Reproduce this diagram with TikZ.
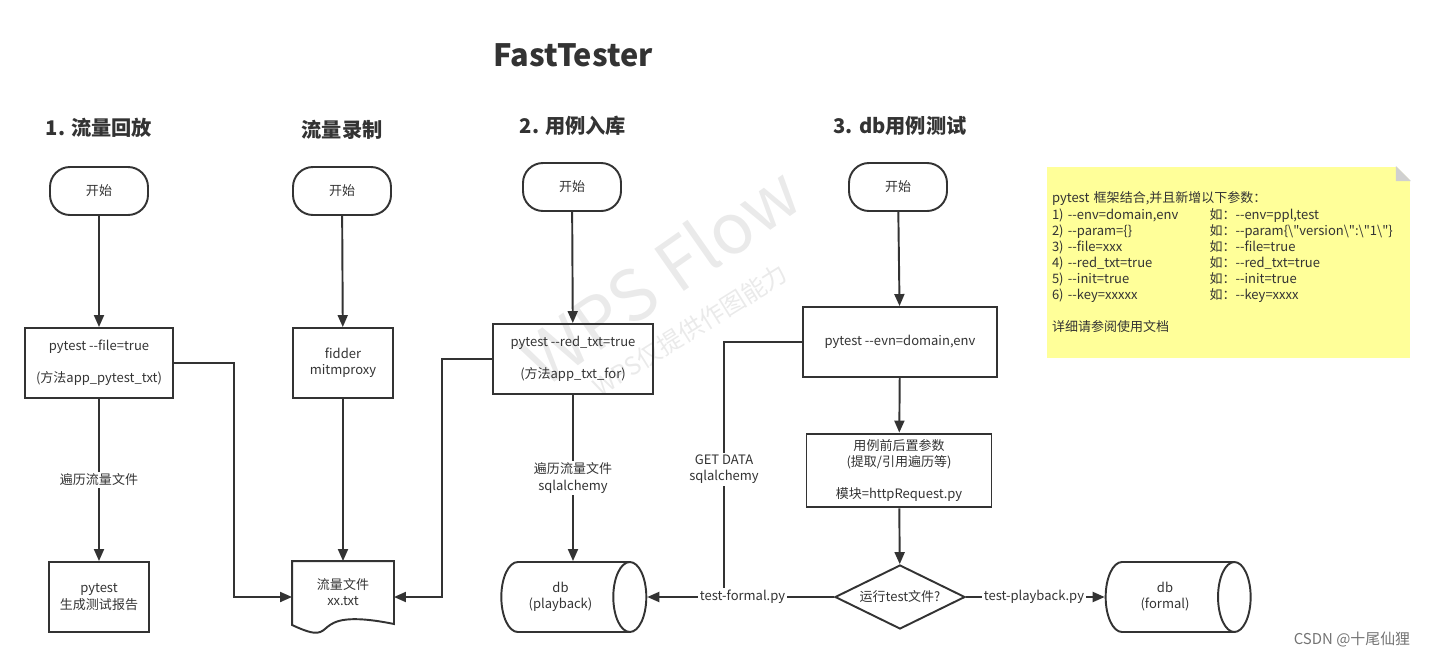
\documentclass[tikz,border=0pt]{standalone}
\usepackage{fontspec}
\setmainfont{Noto Sans CJK SC}[Ligatures=TeXOff]
\usetikzlibrary{arrows.meta,positioning,shapes.geometric}
\definecolor{ink}{RGB}{51,51,51}
\definecolor{notefill}{RGB}{255,255,153}
\definecolor{foldgray}{RGB}{208,208,208}
\definecolor{wmgray}{RGB}{234,234,234}

\begin{document}
\begin{tikzpicture}[>={Triangle[length=2.4mm,width=2mm]},
 font=\fontsize{7.4}{9.2}\selectfont, color=ink, line width=1.1pt,
 hdr/.style={font=\fontsize{11.5}{13}\selectfont\bfseries},
 term/.style={draw,rounded corners=0.4cm,minimum width=1.96cm,minimum height=0.96cm},
 proc/.style={draw,align=center,minimum height=1.4cm},
 doc/.style={align=center,minimum width=2cm,minimum height=1.2cm},
 db/.style={draw,cylinder,aspect=0.8,align=center,minimum width=1.4cm,minimum height=2.9cm},
 dec/.style={draw,diamond,aspect=2,inner sep=0pt,minimum width=2.6cm,minimum height=1.28cm},
 lbl/.style={fill=white,inner sep=1pt,align=center}]
\useasboundingbox (0,0) rectangle (28.72,-13.16);
% watermark
\node[wmgray,rotate=35,font=\fontsize{40}{40}\selectfont] (wm) at (13.2,-5.5) {WPS Flow};
\node[wmgray,rotate=32,font=\fontsize{14}{14}\selectfont] (wmsub) at (13.8,-6.6) {WPS仅提供作图能力};
% titles
\node[font=\fontsize{17.5}{20}\selectfont\bfseries] (title) at (11.46,-1.1) {FastTester};
\node[hdr] (h1) at (1.98,-2.56) {1. 流量回放};
\node[hdr] (h2) at (6.84,-2.6) {流量录制};
\node[hdr] (h3) at (11.46,-2.52) {2. 用例入库};
\node[hdr] (h4) at (18.0,-2.52) {3. db用例测试};
% column 1
\node[term] (s1) at (1.98,-3.82) {开始};
\node[proc,minimum width=2.96cm] (replay) at (1.98,-7.26) {pytest -{}-file=true\\[9pt](方法app\_pytest\_txt)};
\node[proc,minimum width=2cm] (report) at (1.98,-11.94) {pytest\\生成测试报告};
% column 2
\node[term] (s2) at (6.84,-3.82) {开始};
\node[proc,minimum width=2cm] (record) at (6.86,-7.26) {fidder\\mitmproxy};
\node[doc] (txt) at (6.86,-11.84) {流量文件\\xx.txt};
\draw (txt.south west) -- (txt.north west) -- (txt.north east) -- ([yshift=-0.02cm]txt.south east)
 .. controls (6.0,-12.1) and (6.9,-13.0) .. ([yshift=-0.04cm]txt.south west) -- cycle;
% column 3
\node[term] (s3) at (11.44,-3.74) {开始};
\node[proc,minimum width=3.2cm] (import) at (11.46,-7.18) {pytest -{}-red\_txt=true\\[9pt](方法app\_txt\_for)};
\node[db] (dbp) at (11.21,-11.94) {db\\(playback)};
% column 4
\node[term] (s4) at (17.96,-3.74) {开始};
\node[proc,minimum width=3.88cm] (run) at (18.0,-6.84) {pytest -{}-evn=domain,env};
\node[proc,minimum width=3.7cm,minimum height=1.46cm] (param) at (17.98,-9.41) {用例前后置参数\\(提取/引用遍历等)\\[9pt]模块=httpRequest.py};
\node[dec] (ask) at (18.0,-11.94) {运行test文件?};
\node[db] (dbf) at (23.3,-11.94) {db\\(formal)};
% note
\node[fill=notefill,minimum width=7.26cm,minimum height=3.82cm,text width=7.06cm,inner xsep=0.1cm,align=left] (note) at (24.57,-5.25)
 {pytest 框架结合,并且新增以下参数：\\
 \makebox[3.15cm][l]{1) -{}-env=domain,env}如：-{}-env=ppl,test\\
 \makebox[3.15cm][l]{2) -{}-param=\{\}}如：-{}-param\{\textbackslash"version\textbackslash":\textbackslash"1\textbackslash"\}\\
 \makebox[3.15cm][l]{3) -{}-file=xxx}如：-{}-file=true\\
 \makebox[3.15cm][l]{4) -{}-red\_txt=true}如：-{}-red\_txt=true\\
 \makebox[3.15cm][l]{5) -{}-init=true}如：-{}-init=true\\
 \makebox[3.15cm][l]{6) -{}-key=xxxxx}如：-{}-key=xxxx\\[9pt]
 详细请参阅使用文档};
\fill[white] (note.north east) -- ++(-0.3,0) -- ++(0.3,-0.3) -- cycle;
\fill[foldgray] ([xshift=-0.3cm]note.north east) -- ++(0.3,-0.3) -- ++(-0.3,0) -- cycle;
\node[gray!90!black,font=\fontsize{8.5}{10}\selectfont] (csdn) at (27.04,-12.8) {CSDN @十尾仙狸};
% connectors
\draw[->] (s1) -- (replay);
\draw[->] (replay) -- node[lbl] {遍历流量文件} (report);
\draw[->] (replay.east) -- ++(1.2,0) |- ([yshift=-0.1cm]txt.west);
\draw[->] (s2) -- (record);
\draw[->] (record) -- (txt);
\draw[->] (import.west) -- ++(-1.0,0) |- ([yshift=-0.1cm]txt.east);
\draw[->] (s3) -- (import);
\draw[->] (import) -- node[lbl] {遍历流量文件\\sqlalchemy} (import |- dbp.north);
\draw[->] (s4) -- (run);
\draw[->] (run) -- (param);
\draw[->] (param) -- (ask);
\draw (run.west) -| node[lbl,pos=0.75] {GET DATA\\sqlalchemy} (14.48,-11.94);
\draw[->] (ask.west) -- node[lbl,pos=0.49] {test-formal.py} (dbp.east);
\draw[->] (ask.east) -- node[lbl,pos=0.49] {test-playback.py} (dbf.west);
\end{tikzpicture}
\end{document}
